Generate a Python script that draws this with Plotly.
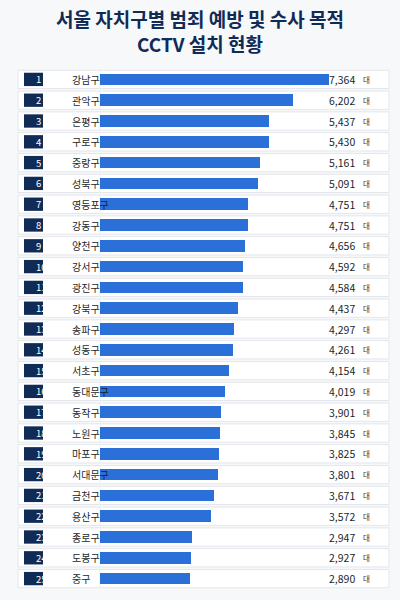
import plotly.graph_objects as go

districts = ["강남구","관악구","은평구","구로구","중랑구","성북구","영등포구","강동구","양천구","강서구",
             "광진구","강북구","송파구","성동구","서초구","동대문구","동작구","노원구","마포구","서대문구",
             "금천구","용산구","종로구","도봉구","중구"]
values = [7364,6202,5437,5430,5161,5091,4751,4751,4656,4592,4584,4437,4297,4261,4154,4019,3901,3845,3825,3801,
          3671,3572,2947,2927,2890]
ranks = list(range(1, 26))

F = "Noto Sans CJK KR"
W = 400
upx = 7364/229.0
fig = go.Figure()
shapes, ann = [], []
for r, d, v in zip(ranks, districts, values):
    shapes.append(dict(type="rect", xref="paper", yref="y", x0=18/W, x1=389/W, y0=r-0.44, y1=r+0.44,
                       fillcolor="white", line=dict(color="#e3e6ec", width=1), layer="below"))
    shapes.append(dict(type="line", xref="paper", yref="y", x0=100/W, x1=100/W, y0=r-0.44, y1=r+0.44,
                       line=dict(color="#eceef2", width=1), layer="below"))
    shapes.append(dict(type="rect", xref="paper", yref="y", x0=24/W, x1=43/W, y0=r-0.32, y1=r+0.32,
                       fillcolor="#0f2b56", line=dict(width=0), layer="below"))
    ann.append(dict(xref="paper", yref="y", x=33.5/W, y=r, text=str(r), showarrow=False,
                    font=dict(family=F, size=9.5, color="white")))
    ann.append(dict(xref="paper", yref="y", x=70/W, y=r, text=d, showarrow=False,
                    font=dict(family=F, size=10, color="#1a1f2b")))
    ann.append(dict(xref="paper", yref="y", x=357/W, y=r, text=f"{v:,}", showarrow=False, xanchor="right",
                    font=dict(family=F, size=10.5, color="#1a1f2b")))
    ann.append(dict(xref="paper", yref="y", x=361/W, y=r, text="대", showarrow=False, xanchor="left",
                    font=dict(family=F, size=7.5, color="#333")))

fig.add_trace(go.Bar(y=ranks, x=values, orientation="h", width=0.55,
                     marker=dict(color="#2b6fd8", line=dict(width=0)), hoverinfo="skip"))
ann.append(dict(xref="paper", yref="paper", x=0.5, y=1, yshift=66, yanchor="top", showarrow=False,
                text="<b>서울 자치구별 범죄 예방 및 수사 목적<br>CCTV 설치 현황</b>",
                font=dict(family=F, size=19, color="#0f2b56")))
fig.update_layout(width=400, height=600, margin=dict(l=0, r=0, t=68.6, b=10.6),
                  paper_bgcolor="#f7f8fa", plot_bgcolor="rgba(0,0,0,0)", showlegend=False,
                  xaxis=dict(range=[-100*upx, 300*upx], visible=False, fixedrange=True),
                  yaxis=dict(range=[25.5, 0.5], visible=False, fixedrange=True),
                  shapes=shapes, annotations=ann, bargap=0)
fig.write_html("out.html", config={"displayModeBar": False},
               post_script="document.body.style.margin='0';document.body.style.overflow='hidden';")
